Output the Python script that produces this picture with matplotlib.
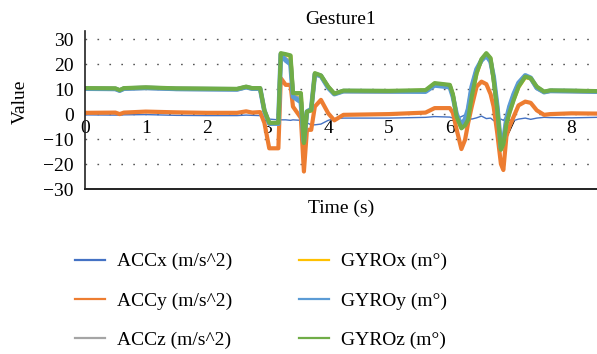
import matplotlib
matplotlib.use("Agg")
import matplotlib.pyplot as plt

plt.rcParams['font.family'] = ['Liberation Serif', 'DejaVu Serif']

time_s = [0.0, 0.5, 0.57, 0.64, 1.0, 1.5, 2.0, 2.5, 2.65, 2.75,
          2.88, 2.95, 3.03, 3.18, 3.22, 3.3, 3.38, 3.42, 3.55, 3.6,
          3.65, 3.72, 3.78, 3.88, 4.0, 4.1, 4.25, 5.0, 5.6, 5.75,
          6.0, 6.05, 6.11, 6.19, 6.25, 6.3, 6.36, 6.44, 6.52, 6.6,
          6.67, 6.72, 6.78, 6.84, 6.88, 6.93, 6.98, 7.05, 7.13, 7.24,
          7.33, 7.43, 7.55, 7.65, 8.0, 8.42]

acc_x = [-0.3, -0.4, -0.4, -0.3, -0.2, -0.5, -0.6, -0.6, -0.4, -0.5,
         -0.6, -1.0, -2.0, -2.3, -2.3, -2.3, -2.5, -2.3, -2.5, -2.6,
         -3.5, -4.3, -4.3, -4.0, -2.5, -1.8, -1.6, -1.6, -1.3, -1.0,
         -1.2, -1.6, -1.8, -1.0, -0.3, -1.5, -2.0, -1.5, -0.8, -1.8,
         -1.6, -2.6, -2.9, -2.0, -2.5, -1.0, -2.4, -2.6, -2.0, -1.6,
         -2.1, -1.6, -1.3, -1.4, -1.5, -1.3]

acc_y = [0.5, 0.6, 0.0, 0.6, 1.0, 0.7, 0.5, 0.5, 1.1, 0.6,
         0.8, -3.5, -13.7, -13.7, 14.4, 11.7, 11.7, 3.0, -1.5, -23.0,
         -6.3, -6.3, 3.0, 5.7, 0.3, -2.5, -0.3, 0.0, 0.6, 2.4,
         2.4, 0.5, -6.0, -14.0, -10.3, -3.7, 3.0, 11.0, 13.0, 12.0,
         8.0, 3.0, -7.7, -20.0, -22.4, -9.0, -5.0, -1.0, 3.5, 5.0,
         4.5, 1.5, -0.3, 0.0, 0.3, 0.2]

acc_z = [10.1, 10.0, 9.4, 10.1, 10.4, 10.0, 9.9, 9.8, 10.7, 10.1,
         10.1, 1.2, -3.8, -3.8, 23.8, 22.0, 21.0, 7.5, 6.0, -11.2,
         0.8, 1.8, 15.8, 15.2, 10.8, 8.0, 9.1, 9.0, 9.2, 11.6,
         11.0, 7.2, -0.2, -4.8, -2.2, 1.8, 10.8, 17.8, 21.5, 23.5,
         21.0, 14.8, 2.8, -13.6, -11.2, -2.2, 2.8, 7.8, 12.3, 15.3,
         14.3, 10.3, 8.8, 9.2, 9.1, 9.0]

gyro_x = [10.3, 10.2, 9.5, 10.3, 10.6, 10.2, 10.1, 10.0, 10.9, 10.3,
          10.3, 1.4, -3.6, -3.6, 24.2, 23.8, 23.3, 8.2, 8.2, -11.4,
          0.9, 1.4, 16.2, 15.3, 10.8, 8.2, 9.2, 9.1, 9.4, 12.2,
          11.5, 7.8, -1.1, -5.5, -4.3, -2.1, 7.2, 16.2, 21.8, 24.2,
          22.2, 13.5, 1.6, -14.1, -11.8, -3.8, 0.6, 5.8, 10.8, 14.8,
          14.2, 10.8, 8.8, 9.3, 9.2, 9.0]

gyro_y = [10.2, 10.1, 9.4, 10.2, 10.5, 10.1, 10.0, 9.9, 10.8, 10.2,
          10.2, 1.3, -3.8, -3.8, 24.0, 21.5, 20.0, 7.0, 4.8, -11.0,
          1.0, 2.0, 16.0, 15.3, 10.5, 8.0, 9.2, 9.1, 9.0, 11.5,
          10.8, 7.0, 0.0, -4.5, -2.0, 2.0, 11.0, 18.0, 21.5, 23.5,
          21.0, 15.0, 3.0, -13.5, -11.0, -2.0, 3.0, 8.0, 12.5, 15.5,
          14.5, 10.5, 8.8, 9.3, 9.2, 9.0]

gyro_z = [10.4, 10.3, 9.6, 10.4, 10.7, 10.3, 10.2, 10.1, 11.0, 10.4,
          10.4, 1.5, -3.5, -3.5, 24.4, 24.0, 23.5, 8.4, 8.4, -11.6,
          1.0, 1.5, 16.4, 15.5, 11.0, 8.2, 9.4, 9.3, 9.6, 12.4,
          11.7, 8.0, -1.0, -5.7, -4.5, -2.3, 7.0, 16.4, 22.0, 24.4,
          22.4, 13.7, 1.7, -14.3, -12.0, -4.0, 0.5, 5.7, 11.0, 15.0,
          14.4, 11.0, 9.0, 9.5, 9.4, 9.2]

labels = ["ACCx (m/s^2)", "ACCy (m/s^2)", "ACCz (m/s^2)",
          "GYROx (m°)", "GYROy (m°)", "GYROz (m°)"]
colors = ["#4472C4", "#ED7D31", "#A5A5A5", "#FFC000", "#5B9BD5", "#70AD47"]
widths = [1.0, 3.0, 2.8, 2.8, 3.4, 3.0]
series = [acc_x, acc_y, acc_z, gyro_x, gyro_y, gyro_z]

x_ticks = [0, 1, 2, 3, 4, 5, 6, 7, 8]
y_ticks = [-30, -20, -10, 0, 10, 20, 30]

FS = 14

fig = plt.figure(figsize=(5.97, 3.54), dpi=100)
ax = fig.add_axes([85 / 597, 1 - 189 / 354, 512 / 597, (189 - 30.7) / 354])

for vals, lab, col, lw in zip(series, labels, colors, widths):
    ax.plot(time_s, vals, color=col, lw=lw, label=lab,
            solid_joinstyle='round', solid_capstyle='round')

ax.set_xlim(0, 8.42)
ax.set_ylim(-30, 33.4)
ax.set_xticks(x_ticks)
ax.set_yticks(y_ticks)

for y in y_ticks[1:]:
    ax.axhline(y, color='#555555', lw=1.0, ls=(0, (1.2, 7.4)), zorder=0)

for s in ['top', 'right']:
    ax.spines[s].set_visible(False)
ax.spines['left'].set_linewidth(1.2)
ax.spines['left'].set_color('#222222')
ax.spines['bottom'].set_position(('data', 0))
ax.spines['bottom'].set_visible(False)
ax.axhline(-30, color='#222222', lw=1.4, clip_on=False, zorder=5)

ax.tick_params(axis='x', length=0, pad=4, labelsize=FS)
ax.tick_params(axis='y', length=0, pad=8, labelsize=FS)

ax.set_title("Gesture1", fontsize=FS, pad=5)
ax.set_xlabel("Time (s)", fontsize=FS)
ax.xaxis.set_label_coords(0.5, -0.07)
ax.set_ylabel("Value", fontsize=FS)
ax.yaxis.set_label_coords(-0.11, 0.55)

leg_lines = [plt.Line2D([], [], color=c, lw=1.6) for c in colors]
fig.legend(handles=leg_lines, labels=labels, ncol=2, frameon=False,
           loc='center', bbox_to_anchor=(261 / 597, 1 - 300.7 / 354),
           fontsize=FS, handlelength=1.54, handletextpad=0.62,
           columnspacing=3.44, labelspacing=1.1)

fig.savefig("out.png", dpi=100)
